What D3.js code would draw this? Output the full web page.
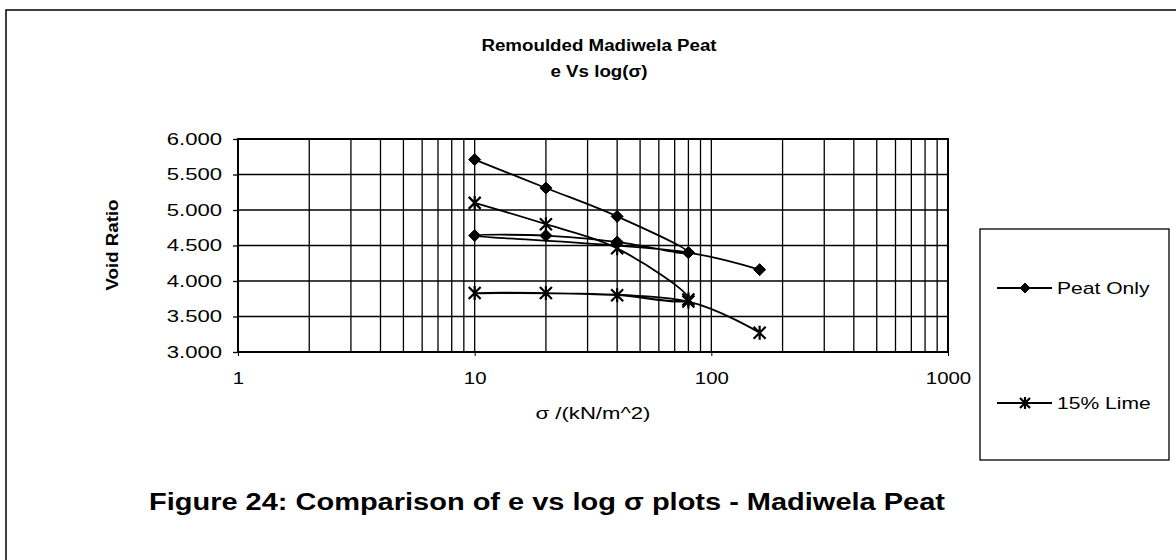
<!DOCTYPE html>
<html>
<head>
<meta charset="utf-8">
<script src="https://cdn.jsdelivr.net/npm/d3@7"></script>
<style>
  body { margin: 0; background: #fff; }
  svg { display: block; font-family: "Liberation Sans", Arial, sans-serif; }
</style>
</head>
<body>
<div id="chart"></div>
<script>
// data (loading, unloading, reloading order)
var sigma = [10, 20, 40, 80, 40, 20, 10, 80, 160];
var peatOnly = [5.71, 5.31, 4.91, 4.40, 4.55, 4.64, 4.64, 4.40, 4.16];
var lime15 = [5.10, 4.80, 4.46, 3.74, 3.80, 3.83, 3.83, 3.71, 3.27];
var seriesNames = ["Peat Only", "15% Lime"];
var yTicks = [3.0, 3.5, 4.0, 4.5, 5.0, 5.5, 6.0];
var xTicks = [1, 10, 100, 1000];

var W = 1176, H = 560;
var pLeft = 238, pRight = 948, pTop = 139, pBottom = 352;

var svg = d3.select("#chart").append("svg")
    .attr("width", W)
    .attr("height", H);

// widen a text selection horizontally (the scanned text is wider than plain Arial)
function stretch(sel, k) {
    sel.each(function() {
        var len = this.getComputedTextLength();
        d3.select(this)
            .attr("textLength", len * k)
            .attr("lengthAdjust", "spacingAndGlyphs");
    });
}

// outer frame of the figure
svg.append("rect")
    .attr("x", 6).attr("y", 10)
    .attr("width", 1200).attr("height", 600)
    .attr("fill", "none")
    .attr("stroke", "#000")
    .attr("stroke-width", 1.5);

var x = d3.scaleLog().domain([1, 1000]).range([pLeft, pRight]);
var y = d3.scaleLinear().domain([3, 6]).range([pBottom, pTop]);

// vertical grid: 1..9 in each decade
var vGrid = [];
[1, 10, 100].forEach(function(d) {
    for (var k = 2; k <= 9; k++) vGrid.push(d * k);
});
vGrid = vGrid.concat([10, 100]);

svg.append("g").selectAll("line")
    .data(vGrid)
    .enter().append("line")
    .attr("x1", function(d) { return x(d); })
    .attr("x2", function(d) { return x(d); })
    .attr("y1", pTop).attr("y2", pBottom)
    .attr("stroke", "#000").attr("stroke-width", 1.3);

svg.append("g").selectAll("line")
    .data(yTicks.slice(1, -1))
    .enter().append("line")
    .attr("x1", pLeft).attr("x2", pRight)
    .attr("y1", function(d) { return y(d); })
    .attr("y2", function(d) { return y(d); })
    .attr("stroke", "#000").attr("stroke-width", 1.3);

svg.append("rect")
    .attr("x", pLeft).attr("y", pTop)
    .attr("width", pRight - pLeft).attr("height", pBottom - pTop)
    .attr("fill", "none").attr("stroke", "#000").attr("stroke-width", 2);

// axes
var yAxis = d3.axisLeft(y).tickValues(yTicks).tickSize(5).tickPadding(11)
    .tickFormat(d3.format(".3f"));
var gy = svg.append("g").attr("transform", "translate(" + pLeft + ",0)").call(yAxis);
gy.select(".domain").remove();
gy.selectAll("line").attr("stroke-width", 1.3);
gy.selectAll("text").attr("font-size", 17).attr("font-family", "Liberation Sans, Arial").attr("fill", "#000");
stretch(gy.selectAll("text"), 1.3);

var xAxis = d3.axisBottom(x).tickValues(xTicks).tickSize(4).tickPadding(16)
    .tickFormat(d3.format("d"));
var gx = svg.append("g").attr("transform", "translate(0," + pBottom + ")").call(xAxis);
gx.select(".domain").remove();
gx.selectAll("text").attr("font-size", 17).attr("font-family", "Liberation Sans, Arial").attr("fill", "#000");
stretch(gx.selectAll("text"), 1.2);

// titles
var t1 = svg.append("text").attr("x", 599).attr("y", 51)
    .attr("text-anchor", "middle").attr("font-weight", "bold").attr("font-size", 16)
    .text("Remoulded Madiwela Peat");
var t2 = svg.append("text").attr("x", 599).attr("y", 77)
    .attr("text-anchor", "middle").attr("font-weight", "bold").attr("font-size", 16)
    .text("e Vs log(σ)");
stretch(t1, 1.17);
stretch(t2, 1.17);

var yl = svg.append("text")
    .attr("transform", "translate(118,245) rotate(-90)")
    .attr("text-anchor", "middle").attr("font-weight", "bold").attr("font-size", 17)
    .text("Void Ratio");
stretch(yl, 1.1);

var xl = svg.append("text").attr("x", 593).attr("y", 419)
    .attr("text-anchor", "middle").attr("font-size", 17)
    .text("σ /(kN/m^2)");
stretch(xl, 1.3);

var cap = svg.append("text").attr("x", 547).attr("y", 510)
    .attr("text-anchor", "middle").attr("font-weight", "bold").attr("font-size", 23)
    .text("Figure 24: Comparison of e vs log σ plots - Madiwela Peat");
stretch(cap, 1.26);

// series
var line = d3.line()
    .x(function(d) { return x(d[0]); })
    .y(function(d) { return y(d[1]); })
    .curve(d3.curveCatmullRom.alpha(0.5));

var peatPts = sigma.map(function(s, i) { return [s, peatOnly[i]]; });
var limePts = sigma.map(function(s, i) { return [s, lime15[i]]; });

[peatPts, limePts].forEach(function(pts) {
    svg.append("path")
        .datum(pts)
        .attr("d", line)
        .attr("fill", "none")
        .attr("stroke", "#000")
        .attr("stroke-width", 1.8);
});

function diamond(g, cx, cy, r) {
    g.append("path")
        .attr("d", "M" + cx + "," + (cy - r) + "L" + (cx + r) + "," + cy +
            "L" + cx + "," + (cy + r) + "L" + (cx - r) + "," + cy + "Z")
        .attr("fill", "#000").attr("stroke", "#000").attr("stroke-width", 1);
}

function star(g, cx, cy, r) {
    var p = "M" + (cx - r) + "," + (cy - r) + "L" + (cx + r) + "," + (cy + r) +
        "M" + (cx - r) + "," + (cy + r) + "L" + (cx + r) + "," + (cy - r) +
        "M" + cx + "," + (cy - r - 1) + "L" + cx + "," + (cy + r + 1);
    g.append("path").attr("d", p).attr("stroke", "#000").attr("stroke-width", 2.2).attr("fill", "none");
}

var marks = svg.append("g");
peatPts.forEach(function(d) { diamond(marks, x(d[0]), y(d[1]), 6); });
limePts.forEach(function(d) { star(marks, x(d[0]), y(d[1]), 6); });

// legend
var lg = svg.append("g");
lg.append("rect")
    .attr("x", 980).attr("y", 229)
    .attr("width", 189).attr("height", 231)
    .attr("fill", "#fff").attr("stroke", "#000").attr("stroke-width", 1.3);

var legendY = [288, 403];
seriesNames.forEach(function(name, i) {
    var ly = legendY[i];
    lg.append("line")
        .attr("x1", 997).attr("x2", 1052)
        .attr("y1", ly).attr("y2", ly)
        .attr("stroke", "#000").attr("stroke-width", 1.8);
    if (i === 0) diamond(lg, 1025, ly, 5);
    else star(lg, 1025, ly, 5);
    var lt = lg.append("text")
        .attr("x", 1057).attr("y", ly + 6)
        .attr("font-size", 17)
        .text(name);
    stretch(lt, 1.24);
});
</script>
</body>
</html>
